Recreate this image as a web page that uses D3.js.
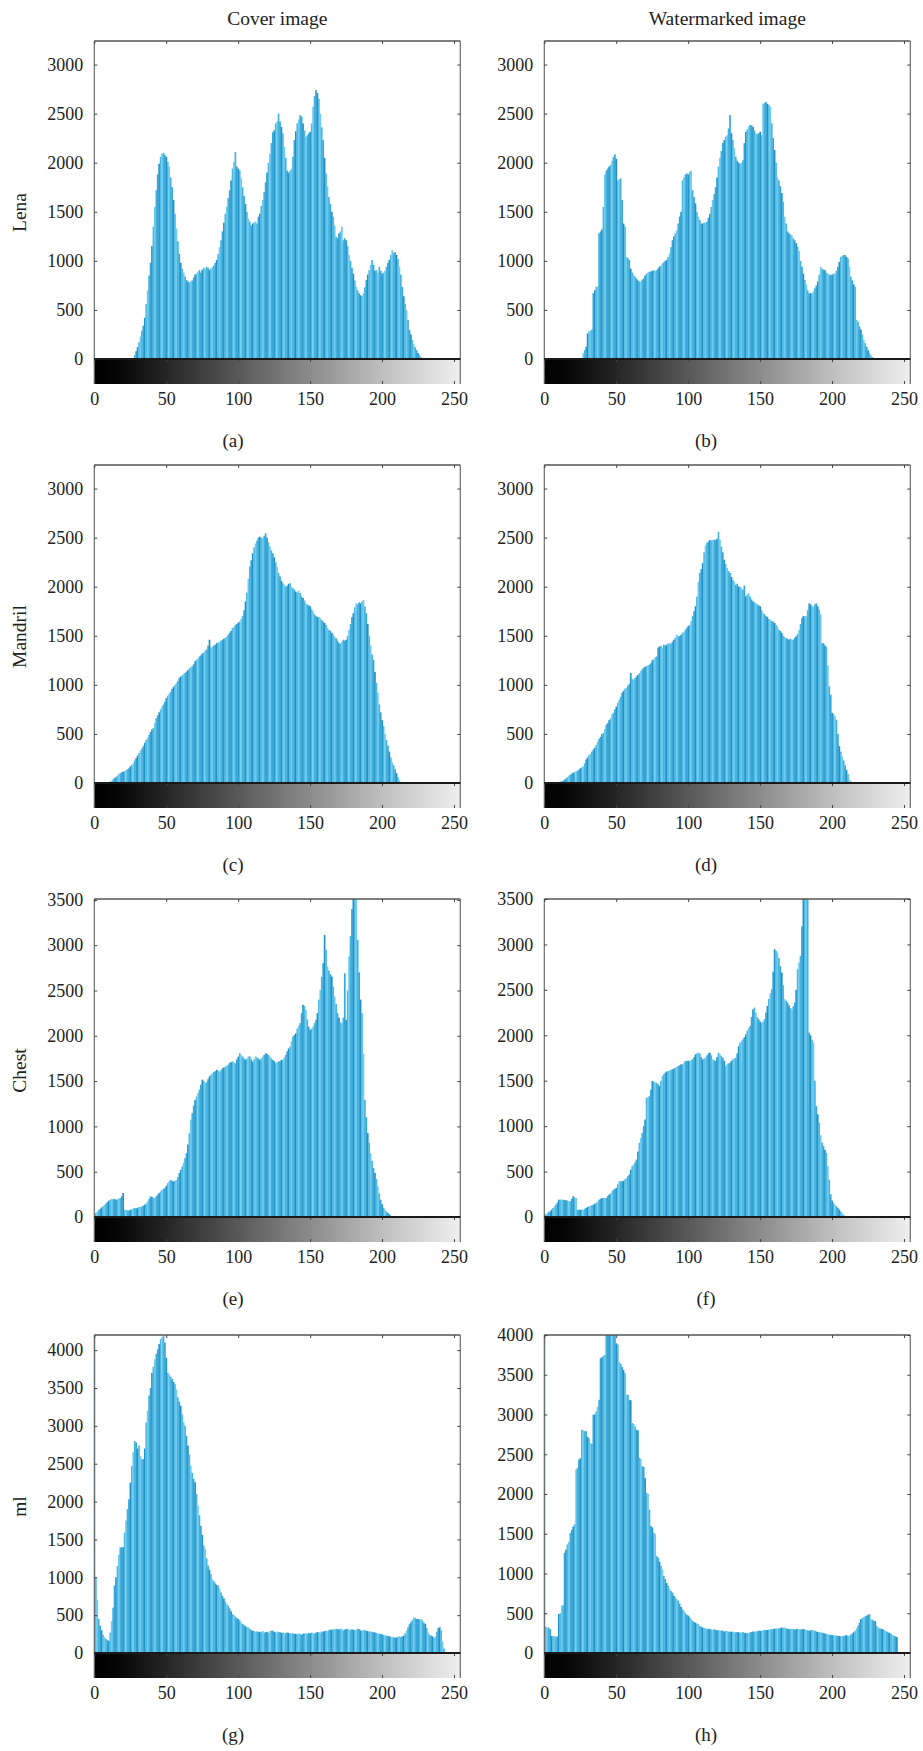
<!DOCTYPE html>
<html><head><meta charset="utf-8">
<script src="https://cdn.jsdelivr.net/npm/d3@7"></script>
<style>
body{margin:0;background:#fff}
svg{display:block}
svg text{font-family:"Liberation Serif","Times New Roman",serif !important;fill:#222}
</style>
</head><body>
<svg id="chart" width="923" height="1751"></svg>
<script>
// ---------------- DATA ----------------
const grayLevels = d3.range(256);          // categories: gray levels 0..255
const columnTitles = ["Cover image", "Watermarked image"];
const rowLabels = ["Lena", "Mandril", "Chest", "ml"];
const subLabels = [["(a)", "(b)"], ["(c)", "(d)"], ["(e)", "(f)"], ["(g)", "(h)"]];
const xTickValues = [0, 50, 100, 150, 200, 250];
const yTickValues = [
  [0, 500, 1000, 1500, 2000, 2500, 3000],
  [0, 500, 1000, 1500, 2000, 2500, 3000],
  [0, 500, 1000, 1500, 2000, 2500, 3000, 3500],
  [0, 500, 1000, 1500, 2000, 2500, 3000, 3500, 4000]
];
const yMax = [[3240, 3240], [3240, 3240], [3510, 3500], [4200, 4000]];

const lenaCover = [
0,0,0,0,0,0,0,0,0,0,0,0,0,0,0,0,
0,0,0,0,0,0,0,0,0,0,0,10,40,80,120,170,
230,290,340,420,560,700,850,980,1150,1350,1550,1720,1880,1990,2060,2090,
2100,2080,2060,2010,1960,1850,1750,1620,1480,1330,1200,1070,980,920,880,840,
805,790,780,790,800,830,860,870,890,905,880,910,930,920,940,930,
905,920,940,950,980,1010,1070,1140,1210,1300,1390,1480,1550,1640,1720,1820,
1940,2010,2110,1960,1940,1920,1840,1750,1660,1580,1500,1430,1400,1360,1380,1390,
1400,1380,1450,1480,1560,1620,1700,1800,1900,2000,2090,2200,2310,2330,2400,2420,
2500,2420,2365,2300,2160,2050,1920,1900,1920,1940,2060,2230,2320,2400,2440,2485,
2470,2400,2330,2265,2280,2300,2315,2400,2570,2680,2740,2710,2650,2500,2360,2230,
2050,1890,1760,1650,1580,1500,1450,1360,1245,1230,1280,1300,1350,1210,1230,1210,
1150,1060,1000,930,870,800,735,700,670,650,640,670,730,805,860,905,
960,1010,960,900,905,880,940,900,870,880,900,940,980,1010,1060,1110,
1080,1090,1060,1020,940,860,735,640,560,500,400,295,250,195,150,120,
90,60,40,20,8,0,0,0,0,0,0,0,0,0,0,0,
0,0,0,0,0,0,0,0,0,0,0,0,0,0,0,0
];
const lenaWatermarked = [
0,0,0,0,0,0,0,0,0,0,0,0,0,0,0,0,
0,0,0,0,0,0,0,0,0,0,0,58,90,125,260,280,
290,300,670,700,735,740,1280,1300,1320,1550,1880,1920,1940,1960,1975,2020,
2060,2085,2040,1820,1830,1840,1620,1380,1350,1040,1030,1010,920,880,855,840,
820,800,790,790,810,820,850,870,880,890,890,900,905,900,905,920,
940,950,975,985,1000,1010,1040,1075,1140,1210,1250,1280,1310,1380,1450,1500,
1820,1850,1880,1890,1880,1905,1920,1720,1650,1585,1500,1450,1415,1380,1380,1390,
1390,1400,1440,1480,1550,1620,1680,1750,1850,1960,2050,2120,2200,2230,2265,2280,
2350,2485,2300,2230,2150,2060,2020,2000,1990,2000,2025,2200,2315,2340,2370,2385,
2380,2365,2330,2300,2290,2300,2315,2280,2600,2610,2620,2600,2590,2570,2400,2250,
2130,2000,1850,1820,1760,1690,1600,1450,1380,1300,1280,1270,1260,1230,1210,1180,
1145,1100,1000,940,870,805,760,700,670,670,670,690,720,750,790,860,
940,920,910,905,880,870,860,855,860,870,870,900,940,990,1040,1050,
1060,1060,1040,1025,940,840,800,760,735,400,380,330,300,250,195,160,
125,90,58,40,20,0,0,0,0,0,0,0,0,0,0,0,
0,0,0,0,0,0,0,0,0,0,0,0,0,0,0,0
];
const mandrilCover = [
0,0,0,0,0,0,0,0,5,5,10,15,20,35,50,60,
75,90,100,110,115,120,130,140,150,170,185,200,230,255,280,305,
330,350,375,410,440,460,490,520,545,560,610,660,690,720,750,780,
800,830,865,890,910,930,960,980,1000,1020,1040,1070,1085,1095,1110,1120,
1135,1150,1170,1180,1190,1210,1240,1255,1270,1290,1300,1320,1330,1350,1360,1400,
1460,1380,1390,1400,1410,1425,1430,1440,1450,1460,1470,1480,1490,1510,1530,1550,
1580,1590,1610,1620,1635,1645,1670,1700,1760,1850,1940,2080,2205,2270,2340,2400,
2440,2470,2500,2510,2500,2495,2520,2545,2500,2450,2410,2370,2340,2300,2250,2200,
2140,2105,2060,2035,2020,2000,2010,2030,2035,2000,1985,1970,1950,1940,1960,1935,
1900,1885,1860,1830,1820,1810,1800,1770,1750,1720,1700,1690,1690,1680,1660,1645,
1630,1610,1580,1560,1550,1530,1510,1490,1475,1450,1425,1420,1440,1460,1450,1460,
1500,1560,1620,1690,1730,1790,1830,1820,1840,1830,1850,1865,1800,1730,1620,1495,
1400,1310,1255,1130,1020,920,800,720,640,580,500,440,380,320,260,210,
180,140,100,60,25,10,0,0,0,0,0,0,0,0,0,0,
0,0,0,0,0,0,0,0,0,0,0,0,0,0,0,0,
0,0,0,0,0,0,0,0,0,0,0,0,0,0,0,0
];
const mandrilWatermarked = [
0,0,0,0,0,0,0,0,5,10,10,15,20,25,34,45,
60,75,85,95,105,110,120,125,135,150,160,170,200,240,260,285,
300,320,340,360,390,420,450,470,500,510,550,595,610,640,660,700,
715,750,780,820,850,880,920,940,960,970,990,1010,1120,1060,1050,1070,
1085,1100,1120,1140,1160,1175,1185,1190,1200,1205,1220,1250,1260,1280,1290,1380,
1390,1400,1380,1410,1400,1410,1420,1425,1420,1440,1460,1480,1510,1495,1495,1510,
1530,1540,1560,1580,1600,1610,1650,1700,1750,1800,1900,2050,2140,2180,2240,2350,
2420,2445,2460,2475,2470,2475,2480,2475,2490,2560,2480,2410,2350,2275,2230,2190,
2160,2140,2100,2070,2050,2020,2030,2000,2000,1980,1970,2010,1900,1920,1935,1900,
1870,1850,1840,1830,1820,1810,1800,1760,1730,1720,1700,1690,1670,1665,1650,1645,
1630,1610,1590,1560,1550,1530,1500,1490,1475,1470,1460,1470,1460,1460,1480,1495,
1520,1560,1620,1680,1700,1700,1700,1760,1830,1820,1800,1800,1820,1830,1800,1765,
1720,1425,1425,1400,1390,1200,985,900,715,700,680,645,500,375,320,270,
230,180,135,90,34,15,0,0,0,0,0,0,0,0,0,0,
0,0,0,0,0,0,0,0,0,0,0,0,0,0,0,0,
0,0,0,0,0,0,0,0,0,0,0,0,0,0,0,0
];
const chestCover = [
25,44,60,75,90,105,118,135,150,165,180,190,200,195,200,190,
195,205,210,230,265,80,78,74,70,80,85,95,100,95,100,110,
110,118,125,136,150,173,200,228,220,215,210,230,246,265,283,300,
310,320,345,375,395,410,400,393,400,410,440,485,520,560,600,650,
705,800,925,1075,1147,1230,1290,1330,1370,1405,1460,1515,1500,1478,1490,1520,
1551,1570,1588,1600,1610,1625,1615,1606,1620,1643,1650,1661,1670,1680,1700,1710,
1717,1705,1698,1740,1770,1809,1790,1772,1750,1735,1750,1772,1772,1740,1717,1740,
1772,1760,1750,1735,1750,1772,1790,1809,1800,1790,1772,1750,1735,1720,1698,1710,
1717,1720,1735,1735,1760,1790,1830,1860,1882,1940,1992,2010,2029,2080,2110,2139,
2250,2342,2330,2286,2180,2100,2066,2080,2103,2140,2176,2250,2400,2507,2650,2801,
3113,2950,2764,2720,2680,2654,2540,2433,2350,2250,2200,2150,2139,2200,2690,2176,
2500,2875,3100,3400,3600,3600,3600,3058,2700,2400,2250,1800,1294,1100,926,820,
705,620,540,485,420,338,260,191,140,100,80,60,44,30,15,8,
0,0,0,0,0,0,0,0,0,0,0,0,0,0,0,0,
0,0,0,0,0,0,0,0,0,0,0,0,0,0,0,0,
0,0,0,0,0,0,0,0,0,0,0,0,0,0,0,0
];
const chestWatermarked = [
25,30,40,55,62,80,100,118,136,160,190,190,192,190,188,184,
180,175,173,200,228,215,210,80,78,80,80,80,90,100,110,118,
122,130,136,145,155,170,190,200,210,210,208,210,230,246,260,283,
300,310,320,360,393,395,393,400,415,430,450,467,520,560,577,600,
632,720,816,870,926,1000,1073,1312,1320,1330,1400,1496,1490,1480,1478,1460,
1441,1500,1551,1570,1588,1600,1606,1610,1620,1625,1635,1643,1650,1661,1670,1680,
1680,1700,1717,1717,1720,1717,1730,1735,1760,1790,1800,1809,1800,1760,1735,1745,
1753,1780,1800,1809,1780,1735,1725,1717,1760,1809,1790,1770,1753,1720,1661,1680,
1690,1698,1720,1735,1745,1753,1800,1880,1919,1940,1955,1980,2011,2050,2080,2103,
2200,2286,2305,2250,2200,2176,2150,2139,2150,2176,2250,2323,2400,2460,2507,2700,
2948,2930,2911,2850,2760,2690,2550,2397,2380,2360,2330,2300,2286,2320,2360,2500,
2727,2800,2875,3200,3600,3600,3600,3600,2029,2000,1950,1919,1500,1220,1130,1037,
900,820,779,740,705,560,411,250,180,154,130,118,100,80,60,44,
20,0,0,0,0,0,0,0,0,0,0,0,0,0,0,0,
0,0,0,0,0,0,0,0,0,0,0,0,0,0,0,0,
0,0,0,0,0,0,0,0,0,0,0,0,0,0,0,0
];
const mlCover = [
4300,1000,700,450,360,300,240,210,185,170,160,270,420,600,890,1000,
1150,1300,1395,1395,1400,1590,1750,1900,2030,2250,2470,2650,2800,2780,2700,2740,
2600,2560,2560,2700,3045,3200,3400,3500,3700,3780,3880,3950,4010,4080,4145,4170,
4190,4100,3900,3700,3680,3650,3620,3580,3550,3480,3375,3320,3265,3150,3050,3000,
2870,2740,2620,2475,2380,2300,2255,2100,1945,1820,1680,1560,1420,1375,1250,1155,
1100,1040,975,950,920,900,890,850,800,755,720,680,650,625,590,550,
515,500,480,460,450,430,400,385,370,350,345,340,320,300,295,290,
280,285,280,280,275,290,270,275,280,265,290,295,295,280,270,285,
275,275,265,270,260,265,270,265,260,255,265,250,255,245,260,250,
240,255,260,260,250,265,260,270,265,255,270,275,275,270,285,280,
290,295,290,300,310,305,315,310,320,315,310,320,315,300,310,315,
320,310,300,315,305,300,310,320,315,300,295,305,300,295,290,280,
285,280,275,270,265,260,250,255,245,240,235,230,225,220,215,205,
210,200,205,215,220,210,220,230,260,295,340,380,405,440,470,460,
450,450,440,450,430,400,385,330,270,240,230,220,200,220,280,330,
340,300,150,60,10,0,0,0,0,0,0,0,0,0,0,0
];
const mlWatermarked = [
4300,330,320,320,300,215,210,215,200,210,490,500,595,600,1260,1300,
1365,1400,1510,1550,1590,1620,2307,2330,2433,2450,2810,2800,2790,2790,2720,2700,
2640,2630,2997,3000,3040,3100,3185,3708,3720,3740,3750,4100,4100,4050,4050,4050,
4050,4050,3895,3880,3666,3640,3600,3560,3520,3250,3250,3185,3180,2893,2880,2850,
2810,2800,2454,2440,2350,2340,2200,2015,2000,1800,1597,1580,1513,1500,1220,1200,
1150,1095,1050,970,930,880,845,810,780,760,720,700,680,660,620,580,
550,530,500,480,470,450,430,405,390,380,370,365,340,330,320,315,
310,300,305,300,295,290,300,290,285,290,280,285,280,270,280,275,
268,270,265,270,262,260,265,260,255,260,262,255,250,255,250,260,
265,270,268,270,275,280,278,280,285,290,288,290,295,300,298,300,
305,310,305,310,315,320,318,320,310,305,300,300,305,300,295,300,
305,300,295,300,300,295,290,285,280,285,290,285,280,270,265,260,
260,255,250,245,240,235,230,228,225,222,220,218,215,215,212,215,
215,220,225,215,220,230,245,260,280,310,343,380,425,440,450,460,
470,480,490,425,420,405,400,340,320,310,305,300,290,280,270,260,
250,240,230,215,210,200,0,0,0,0,0,0,0,0,0,0
];

const series = [
  [lenaCover, lenaWatermarked],
  [mandrilCover, mandrilWatermarked],
  [chestCover, chestWatermarked],
  [mlCover, mlWatermarked]
];

// ---------------- LAYOUT ----------------
const colLeft = [94.3, 544.3];
const plotW = 366;
const rowTop = [41, 465, 899, 1335];
const plotH = 318;     // top of frame to zero line
const stripH = 25;     // gray-level strip below zero
const subCenter = [233, 706];
const FONT = '"Liberation Serif","Times New Roman",serif';

const svg = d3.select("#chart");
const defs = svg.append("defs");
const grad = defs.append("linearGradient").attr("id", "grayStrip")
  .attr("x1", "0").attr("x2", "1").attr("y1", "0").attr("y2", "0");
[[0, "#000"], [0.06, "#050505"], [0.2, "#262626"], [0.4, "#5a5a5a"],
 [0.6, "#8e8e8e"], [0.8, "#c2c2c2"], [1, "#efefef"]]
  .forEach(([o, c]) => grad.append("stop").attr("offset", o).attr("stop-color", c));

const barColors = ["#2092c8", "#4db9e2", "#6ccbee", "#45b3de", "#36a6d8"];

// column titles
columnTitles.forEach((t, c) => {
  svg.append("text")
    .attr("x", colLeft[c] + plotW / 2).attr("y", 24.5)
    .attr("text-anchor", "middle").style("font-size", "19.5px").text(t);
});

rowLabels.forEach((lab, r) => {
  const T = rowTop[r];
  svg.append("text")
    .attr("transform", `translate(25.5,${T + (plotH + stripH) / 2}) rotate(-90)`)
    .attr("text-anchor", "middle").style("font-size", "19.5px").text(lab);

  for (let c = 0; c < 2; c++) {
    const L = colLeft[c];
    const data = series[r][c];
    const x = d3.scaleLinear().domain([0, 254.4]).range([L, L + plotW]);
    const y = d3.scaleLinear().domain([0, yMax[r][c]]).range([T + plotH, T]);
    const g = svg.append("g");
    const clipId = `clip${r}${c}`;
    defs.append("clipPath").attr("id", clipId).append("rect")
      .attr("x", L).attr("y", T).attr("width", plotW).attr("height", plotH);

    // bars
    g.append("g").attr("clip-path", `url(#${clipId})`)
      .selectAll("rect").data(grayLevels).join("rect")
      .attr("x", i => x(i - 0.5))
      .attr("width", i => x(i + 0.5) - x(i - 0.5) + 0.25)
      .attr("y", i => y(data[i]))
      .attr("height", i => Math.max(0, y(0) - y(data[i])))
      .attr("fill", i => barColors[i % 5]);

    // gray-level strip
    g.append("rect").attr("x", L).attr("y", T + plotH)
      .attr("width", plotW).attr("height", stripH)
      .attr("fill", "url(#grayStrip)");

    // frame
    g.append("line").attr("x1", L).attr("x2", L + plotW).attr("y1", T).attr("y2", T)
      .attr("stroke", "#555").attr("stroke-width", 1.6);
    g.append("line").attr("x1", L).attr("x2", L).attr("y1", T).attr("y2", T + plotH + stripH)
      .attr("stroke", "#6a6a6a").attr("stroke-width", 1.2);
    g.append("line").attr("x1", L + plotW).attr("x2", L + plotW).attr("y1", T).attr("y2", T + plotH + stripH)
      .attr("stroke", "#6a6a6a").attr("stroke-width", 1.2);

    // axes
    const styleAxis = sel => {
      sel.attr("font-family", FONT).attr("font-size", 18);
      sel.select(".domain").remove();
      sel.selectAll(".tick line").attr("stroke", "#444").attr("stroke-width", 1);
      sel.selectAll(".tick text").style("font-size", "18px").style("font-family", FONT).attr("fill", "#222");
    };
    const fmt = d3.format("d");
    g.append("g").attr("transform", `translate(${L},0)`)
      .call(d3.axisLeft(y).tickValues(yTickValues[r]).tickFormat(fmt).tickSize(-3).tickPadding(11))
      .call(styleAxis);
    g.append("g").attr("transform", `translate(${L + plotW},0)`)
      .call(d3.axisRight(y).tickValues(yTickValues[r]).tickSize(-3).tickFormat(""))
      .call(styleAxis);
    g.append("g").attr("transform", `translate(0,${T})`)
      .call(d3.axisTop(x).tickValues(xTickValues).tickSize(-3).tickFormat(""))
      .call(styleAxis);
    g.append("g").attr("transform", `translate(0,${T + plotH + stripH})`)
      .call(d3.axisBottom(x).tickValues(xTickValues).tickFormat(fmt).tickSize(-3).tickPadding(8))
      .call(styleAxis);
    g.append("g").attr("transform", `translate(0,${T + plotH})`)
      .call(d3.axisBottom(x).tickValues(xTickValues).tickSize(3).tickFormat(""))
      .call(styleAxis);

    // zero line
    g.append("line").attr("x1", L).attr("x2", L + plotW)
      .attr("y1", y(0)).attr("y2", y(0))
      .attr("stroke", "#1a1a1a").attr("stroke-width", 2.2);

    // sub label
    svg.append("text").attr("x", subCenter[c]).attr("y", T + plotH + stripH + 63)
      .attr("text-anchor", "middle").style("font-size", "19px").text(subLabels[r][c]);
  }
});
</script>
</body></html>
